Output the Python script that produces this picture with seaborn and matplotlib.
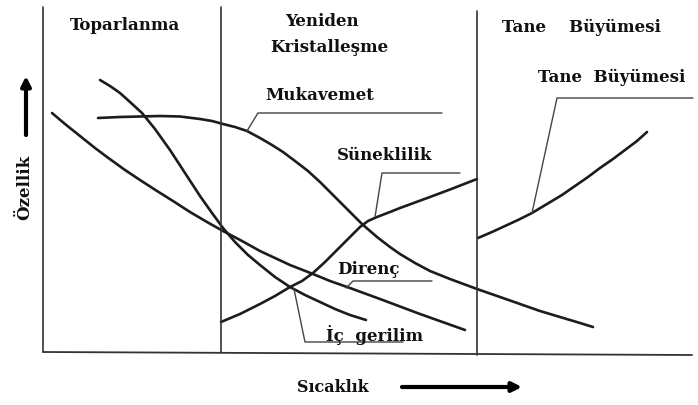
import numpy as np
import pandas as pd
import seaborn as sns
import matplotlib.pyplot as plt

# egriler: sicaklik (x) ve ozellik (y, resimdeki gibi asagi dogru artar)
muk_x = [98, 120, 140, 160, 180, 200, 212, 223, 235, 247, 260, 272, 283, 295, 308, 320, 333, 347, 362,
         377, 390, 400, 415, 430, 450, 477, 500, 520, 540, 560, 580, 593]
muk_y = [119, 118, 117.5, 117, 117.5, 120, 122, 125, 128, 132, 139, 146, 153, 162, 172, 183, 196, 210, 225,
         238, 248, 255, 264, 272, 280, 290, 298, 305, 312, 318, 324, 328]

ic_x = [100, 110, 120, 130, 142, 155, 170, 185, 200, 212, 223, 235, 248, 260, 275, 290, 305, 320, 335, 350, 366]
ic_y = [81, 87, 94, 103, 114, 130, 151, 174, 197, 214, 229, 243, 256, 266, 278, 288, 296, 303, 310, 316, 321]

dir_x = [52, 65, 80, 95, 107, 125, 140, 157, 173, 190, 207, 223, 242, 260, 275, 290, 313, 330, 350, 380, 420, 465]
dir_y = [114, 125, 137, 149, 158, 171, 181, 192, 202, 213, 223, 232, 242, 252, 259, 266, 275, 282, 289, 300, 315, 331]

sun_x = [221, 240, 260, 275, 290, 302, 313, 325, 337, 350, 360, 368, 377, 390, 400, 415, 430, 450, 477]
sun_y = [323, 315, 305, 297, 288, 282, 274, 263, 251, 238, 228, 222, 218, 213, 209, 203.5, 198, 190.5, 180]

tane_x = [478, 492, 505, 518, 532, 547, 562, 575, 588, 600, 613, 625, 637, 647]
tane_y = [239, 233, 227, 221, 214, 205, 196, 187, 178, 169, 160, 151, 142, 133]

# bolge sinirlari ve eksenler
sinir_x = [43, 221, 477]
sinir_ust = [8, 8, 12]
sinir_alt = [353, 353, 356]
taban_x = [43, 692]
taban_y = [353, 356]

# etiket cizgileri
leaders = {
    "Mukavemet": ([247, 258, 442], [132, 114, 114]),
    "Süneklilik": ([375, 382, 460], [218, 174, 174]),
    "Tane Büyümesi": ([532, 557, 693], [214, 99, 99]),
    "Direnç": ([346, 353, 432], [289, 282, 282]),
    "İç gerilim": ([294, 305, 403], [290, 343, 343]),
}

labels = [
    ("Toparlanma", 70, 25),
    ("Yeniden", 285, 21),
    ("Kristalleşme", 270, 48),
    ("Tane    Büyümesi", 502, 27),
    ("Tane  Büyümesi", 538, 77),
    ("Mukavemet", 265, 96),
    ("Süneklilik", 337, 156),
    ("Direnç", 337, 270),
    ("İç  gerilim", 326, 335),
]

sns.set_style("white")
plt.rcParams['font.family'] = ['DejaVu Serif']

fig = plt.figure(figsize=(6.98, 4.06), dpi=100)
ax = fig.add_axes([0, 0, 1, 1])

col = "#1c1c1c"
for xs, ys in [(muk_x, muk_y), (ic_x, ic_y), (dir_x, dir_y), (sun_x, sun_y), (tane_x, tane_y)]:
    sns.lineplot(x=xs, y=ys, sort=False, estimator=None, color=col, lw=1.9, ax=ax)

for x, y0, y1 in zip(sinir_x, sinir_ust, sinir_alt):
    ax.plot([x, x], [y0, y1], color="#333333", lw=1.2)
ax.plot(taban_x, taban_y, color="#333333", lw=1.3)

for name, (lx, ly) in leaders.items():
    ax.plot(lx, ly, color="#444444", lw=1.0)

for txt, x, y in labels:
    ax.text(x, y, txt, fontsize=12, fontweight="bold", ha="left", va="center", color="#111111")

ax.text(25, 187, "Özellik", fontsize=12, fontweight="bold", rotation=90, ha="center", va="center", color="#111111")
ax.text(297, 388, "Sıcaklık", fontsize=11.5, fontweight="bold", ha="left", va="center", color="#111111")

ax.annotate("", xy=(26, 77), xytext=(26, 136),
            arrowprops=dict(arrowstyle="-|>", lw=3, color="black", mutation_scale=14, shrinkA=0, shrinkB=0))
ax.annotate("", xy=(522, 388), xytext=(402, 388),
            arrowprops=dict(arrowstyle="-|>", lw=3, color="black", mutation_scale=14, shrinkA=0, shrinkB=0))

ax.set_xlim(0, 698)
ax.set_ylim(406, 0)
ax.axis("off")

fig.savefig("out.png", dpi=100, facecolor="white")
